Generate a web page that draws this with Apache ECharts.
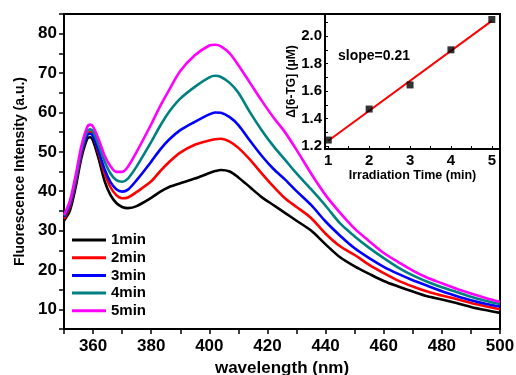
<!DOCTYPE html>
<html><head><meta charset="utf-8">
<script src="https://cdn.jsdelivr.net/npm/echarts@6/dist/echarts.min.js"></script>
<style>html,body{margin:0;padding:0;background:#fff}#c{width:516px;height:375px}</style>
</head><body><div id="c"></div>
<script>
const wavelengths = [350,352,354,356,358,359,360,362,364,366,368,370,372,375,380,383,386,390,395,400,402,404,407,410,414,418,422,426,430,435,440,445,450,455,460,465,470,475,480,485,490,495,500];
const min1 = [32.5,35,41,48.5,53.3,53.7,52.8,48,42.5,39,37,36,35.7,36.2,38.3,39.8,41,42,43.2,44.6,45.1,45.4,45,43.5,41,38.5,36.5,34.5,32.5,30,26.5,23.2,20.9,19,17.2,15.8,14.5,13.3,12.5,11.6,10.6,9.8,9.1];
const min2 = [33,36,42,49.5,54.5,55,54.2,49.5,44.5,41,39,38.2,38.4,39.8,42.5,45,47.3,49.8,51.8,52.9,53.2,53.3,52.6,51,48,44.5,41.2,38.2,36,33.2,29.2,26,23.8,21.3,19.2,17.3,15.8,14.5,13.5,12.6,11.6,10.8,10.0];
const min3 = [33.5,36.5,42.5,50,54.3,54.6,54,50,45.5,42.3,40.5,39.9,40.4,42.8,47.5,50.5,53,55.5,57.6,59.5,60,59.9,58.8,56.8,52.8,49,45.7,43,40,36.5,32.3,28.7,25.5,23,20.8,19,17.4,16,14.6,13.4,12.3,11.4,10.7];
const min4 = [33.8,37,43,50.5,55.2,55.7,55.2,51.5,47.5,44.5,42.8,42.4,43.2,46.3,52.5,56.5,60,63.5,66.5,68.9,69.3,69,67.5,65,60,55.5,51.5,48,44.5,40.5,36.3,31.8,28.5,25.6,23,20.6,18.6,17.0,15.6,14.4,13.2,12.2,11.35];
const min5 = [34,37.5,44,51.5,56.3,56.9,56.4,53,49,46.3,44.9,44.9,46.2,50,57,61.5,65.5,70.5,74.5,77,77.2,76.8,75,72,67.5,63,58.8,55,50.5,44.5,39,34.5,30.5,27.3,24.3,22,19.8,18,16.6,15.2,14,12.9,11.9];
const seriesNames = ['1min','2min','3min','4min','5min'];
const seriesColors = ['#000000','#ff0000','#0000ff','#008080','#ff00ff'];
const seriesData = [min1,min2,min3,min4,min5];

const irrTime = [1,2,3,4,5];
const deltaTG = [1.245,1.47,1.645,1.90,2.12];
const fitTime = [1,5];
const fitTG = [1.24,2.11];

const insetXLabels = [1,2,3,4,5];
const insetXTicks = [1,1.5,2,2.5,3,3.5,4,4.5,5];
const insetYLabels = [1.2,1.4,1.6,1.8,2.0];
const insetYTicks = [1.2,1.3,1.4,1.5,1.6,1.7,1.8,1.9,2.0,2.1];

const FF = 'Liberation Sans, Arial, sans-serif';
const chart = echarts.init(document.getElementById('c'));
const mainSeries = seriesNames.map((n,i)=>({
  name:n, type:'line', xAxisIndex:0, yAxisIndex:0,
  data: wavelengths.map((w,j)=>[w, seriesData[i][j]]),
  showSymbol:false, smooth:0.3, lineStyle:{color:seriesColors[i], width:2.6},
  itemStyle:{color:seriesColors[i]}, z:2
}));
chart.setOption({
  animation:false,
  backgroundColor:'#fff',
  grid:[
    {left:64, top:14, right:16, bottom:46, outerBoundsMode:'none', containLabel:false, show:true, borderColor:'#000', borderWidth:2, backgroundColor:'transparent'},
    {left:325, top:14, right:16, bottom:226, outerBoundsMode:'none', containLabel:false, show:true, borderColor:'#000', borderWidth:2, backgroundColor:'#fff', z:5}
  ],
  legend:{
    orient:'vertical', left:72, top:232, padding:0, icon:'rect', itemWidth:34, itemHeight:3, itemGap:1.7,
    data:seriesNames,
    textStyle:{fontFamily:FF, fontWeight:'bold', fontSize:15, color:'#000', lineHeight:16}
  },
  xAxis:[
    {gridIndex:0, type:'value', min:350, max:500, interval:10,
     name:'wavelength (nm)', nameLocation:'middle', nameGap:31,
     nameTextStyle:{fontFamily:FF, fontWeight:'bold', fontSize:17, color:'#000'},
     axisLine:{lineStyle:{color:'#000', width:2}},
     axisTick:{show:true, inside:false, length:5, lineStyle:{color:'#000', width:1.5}},
     axisLabel:{fontFamily:FF, fontWeight:'bold', fontSize:17, color:'#000', margin:9,
       formatter:v=> (v%20===0 ? String(v) : '')},
     splitLine:{show:false}},
    {gridIndex:1, type:'value', min:0.92, max:5.2, z:6,
     name:'Irradiation Time (min)', nameLocation:'middle', nameGap:20,
     nameTextStyle:{fontFamily:FF, fontWeight:'bold', fontSize:12.5, color:'#000'},
     axisLine:{lineStyle:{color:'#000', width:2}},
     axisTick:{show:true, inside:true, length:3, customValues:insetXTicks, lineStyle:{color:'#000', width:1}},
     axisLabel:{fontFamily:FF, fontWeight:'bold', fontSize:15, color:'#000', margin:4, customValues:insetXLabels},
     splitLine:{show:false}}
  ],
  yAxis:[
    {gridIndex:0, type:'value', min:5, max:85, interval:5,
     name:'Fluorescence Intensity (a.u.)', nameLocation:'middle', nameGap:37,
     nameTextStyle:{fontFamily:FF, fontWeight:'bold', fontSize:14, color:'#000'},
     axisLine:{lineStyle:{color:'#000', width:2}},
     axisTick:{show:true, inside:false, length:5, lineStyle:{color:'#000', width:1.5}},
     axisLabel:{fontFamily:FF, fontWeight:'bold', fontSize:17, color:'#000', margin:7,
       formatter:v=> (v%10===0 ? String(v) : '')},
     splitLine:{show:false}},
    {gridIndex:1, type:'value', min:1.18, max:2.16, z:6,
     name:'Δ[6-TG] (μM)', nameLocation:'middle', nameGap:27,
     nameTextStyle:{fontFamily:FF, fontWeight:'bold', fontSize:12, color:'#000'},
     axisLine:{lineStyle:{color:'#000', width:2}},
     axisTick:{show:true, inside:true, length:3, customValues:insetYTicks, lineStyle:{color:'#000', width:1}},
     axisLabel:{fontFamily:FF, fontWeight:'bold', fontSize:15, color:'#000', margin:3, customValues:insetYLabels,
       formatter:v=>Number(v).toFixed(1)},
     splitLine:{show:false}}
  ],
  graphic:[
    {type:'text', left:338, top:49, z:20, style:{text:'slope=0.21', fontFamily:FF, fontWeight:'bold', fontSize:14, fill:'#000'}}
  ],
  series: mainSeries.concat([
    {type:'line', xAxisIndex:1, yAxisIndex:1, data:fitTime.map((t,i)=>[t,fitTG[i]]),
     showSymbol:false, lineStyle:{color:'#ff0000', width:2}, z:7, silent:true},
    {type:'scatter', xAxisIndex:1, yAxisIndex:1, data:irrTime.map((t,i)=>[t,deltaTG[i]]),
     symbol:'rect', symbolSize:7, itemStyle:{color:'#000'}, z:8}
  ])
});
</script></body></html>
